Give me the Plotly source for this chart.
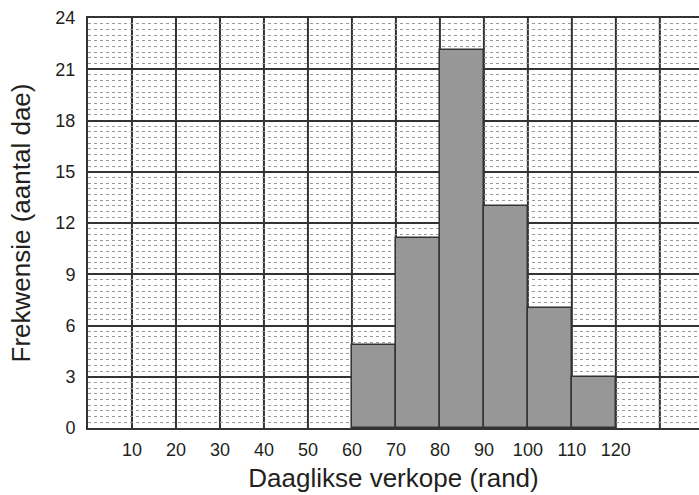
import plotly.graph_objects as go

bin_starts = [60, 70, 80, 90, 100, 110]
frequencies = [4.85, 11.1, 22.1, 13, 7, 3]
x_ticks = [10, 20, 30, 40, 50, 60, 70, 80, 90, 100, 110, 120]
y_ticks = [0, 3, 6, 9, 12, 15, 18, 21, 24]

fig = go.Figure()
fig.add_trace(go.Bar(
    x=[s + 5 for s in bin_starts],
    y=frequencies,
    width=10,
    marker=dict(color="#979797", line=dict(color="#333333", width=1.5)),
    showlegend=False,
))

font = "Liberation Sans, Arial, sans-serif"
fig.update_layout(
    width=699, height=495,
    margin=dict(l=88, r=0, t=18, b=67, autoexpand=False),
    paper_bgcolor="white", plot_bgcolor="white",
    bargap=0,
    font=dict(family=font, color="#231f20"),
    xaxis=dict(
        range=[0, 138.9],
        tickmode="array", tickvals=x_ticks, ticktext=[str(v) for v in x_ticks],
        tickfont=dict(size=18, color="#231f20"),
        showgrid=False,
        showline=True, linecolor="#333333", linewidth=2, mirror=True,
        ticks="", ticklabelstandoff=4,
        automargin=False,
        title=dict(text="Daaglikse verkope (rand)", font=dict(size=26, color="#231f20"), standoff=10),
        zeroline=False,
    ),
    yaxis=dict(
        range=[0, 24],
        tickmode="array", tickvals=y_ticks,
        tickfont=dict(size=18, color="#231f20"),
        showgrid=True, gridcolor="#333333", gridwidth=2,
        showline=True, linecolor="#333333", linewidth=2,
        ticks="", ticklabelstandoff=7,
        automargin=False,
        minor=dict(dtick=1/3, tick0=0, showgrid=True, gridcolor="#9a9a9a", gridwidth=1, griddash="dot"),
        title=dict(text="Frekwensie (aantal dae)", font=dict(size=26, color="#231f20"), standoff=17),
        zeroline=False,
    ),
)

# vertical major grid lines every 10 units (drawn as layout shapes below traces)
for v in range(10, 140, 10):
    fig.add_shape(type="line", xref="x", yref="y", x0=v, x1=v, y0=0, y1=24,
                  line=dict(color="#333333", width=2), layer="below")

fig.write_html(
    "out.html",
    config={"displayModeBar": False},
    post_script="document.body.style.margin='0';document.body.style.overflow='hidden';",
)
